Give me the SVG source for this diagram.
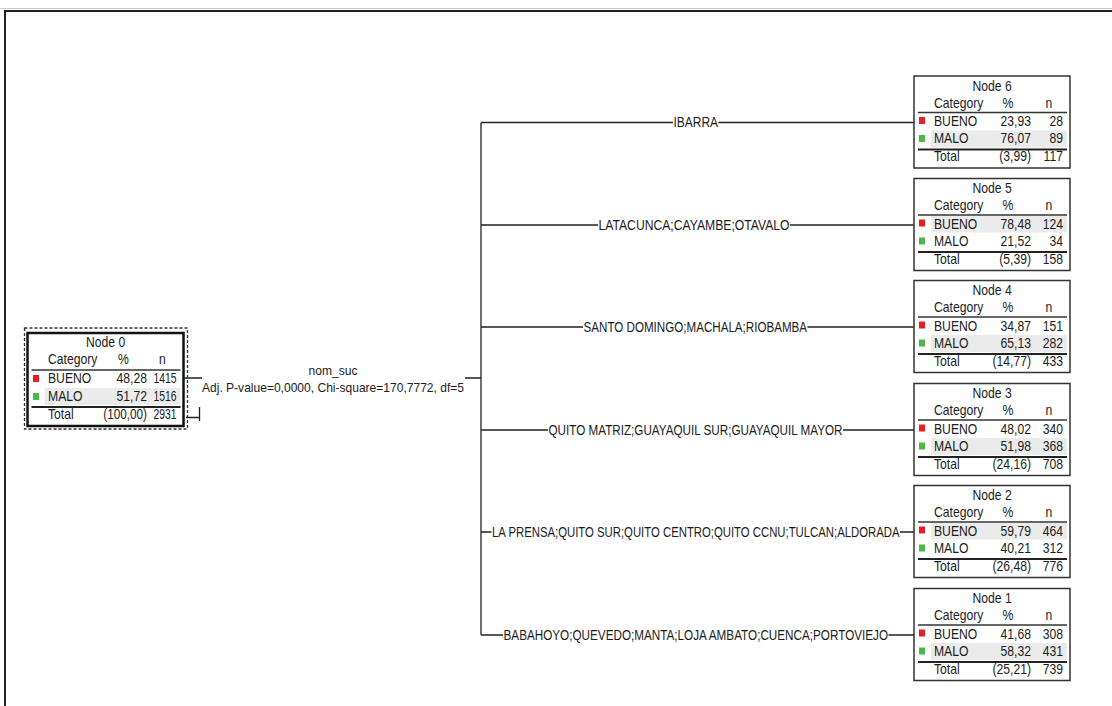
<svg xmlns="http://www.w3.org/2000/svg" width="1112" height="706" viewBox="0 0 1112 706">
<style>
text{font-family:"Liberation Sans",Arial,sans-serif;font-size:14.5px;fill:#1c1c1c}
.t{text-anchor:middle}
.r{text-anchor:end}
.lbl{font-size:14px;text-anchor:middle}
.adj{font-size:13.5px}
.box{fill:#fff;stroke:#333;stroke-width:1.5}
.box0{fill:#fff;stroke:#111;stroke-width:2.5}
.sel{fill:none;stroke:#333;stroke-width:1.3;stroke-dasharray:3 2}
.hl{stroke:#333;stroke-width:1.4}
.dl{stroke:#222;stroke-width:2.2}
.row{fill:#ebebeb}
.red{fill:#ec1c24}
.grn{fill:#4db848}
.c{stroke:#222;stroke-width:1.3;fill:none}
</style>
<defs>
<g id="frame">
<line class="hl" x1="4" y1="36.5" x2="153" y2="36.5"/>
<line class="dl" x1="4" y1="73.5" x2="153" y2="73.5"/>
<rect class="red" x="5" y="41" width="6" height="7"/>
<rect class="grn" x="5" y="59" width="6" height="7"/>
<g transform="scale(0.84,1)">
<text x="23.8" y="32">Category</text>
<text class="t" x="111.9" y="32">%</text>
<text class="t" x="160.7" y="32">n</text>
<text x="23.8" y="50.5">BUENO</text>
<text x="23.8" y="67.5">MALO</text>
<text x="23.8" y="85.5">Total</text>
</g>
</g>
<rect id="gB" class="row" x="17" y="37.5" width="136" height="16.5"/>
<rect id="gM" class="row" x="17" y="54.5" width="136" height="17"/>
</defs>
<line x1="0" y1="8.5" x2="1112" y2="8.5" stroke="#ccc" stroke-width="1"/>
<rect x="5" y="11" width="1200" height="800" fill="none" stroke="#222" stroke-width="2"/>
<g id="connectors">
<path class="c" d="M183,378 H202 M465,378 H481"/>
<path class="c" d="M186,417.5 H199.5 M199.5,407 V421"/>
<path class="c" d="M481,122.5 V635"/>
<path class="c" d="M481,122.5 H673 M718.5,122.5 H914"/>
<path class="c" d="M481,225 H598 M790,225 H914"/>
<path class="c" d="M481,327 H583 M807.5,327 H914"/>
<path class="c" d="M481,430 H548 M843,430 H914"/>
<path class="c" d="M481,532 H491.5 M900,532 H914"/>
<path class="c" d="M481,635 H503 M888.5,635 H914"/>
<text class="t adj" x="333" y="375" textLength="49" lengthAdjust="spacingAndGlyphs">nom_suc</text>
<text class="adj" x="202" y="391.5" textLength="262" lengthAdjust="spacingAndGlyphs">Adj. P-value=0,0000, Chi-square=170,7772, df=5</text>
<text class="lbl" x="695.8" y="127" textLength="44.5" lengthAdjust="spacingAndGlyphs">IBARRA</text>
<text class="lbl" x="694" y="229.5" textLength="191" lengthAdjust="spacingAndGlyphs">LATACUNCA;CAYAMBE;OTAVALO</text>
<text class="lbl" x="695.3" y="331.5" textLength="223.5" lengthAdjust="spacingAndGlyphs">SANTO DOMINGO;MACHALA;RIOBAMBA</text>
<text class="lbl" x="695.5" y="434.5" textLength="294" lengthAdjust="spacingAndGlyphs">QUITO MATRIZ;GUAYAQUIL SUR;GUAYAQUIL MAYOR</text>
<text class="lbl" x="695.8" y="536.5" textLength="407.5" lengthAdjust="spacingAndGlyphs">LA PRENSA;QUITO SUR;QUITO CENTRO;QUITO CCNU;TULCAN;ALDORADA</text>
<text class="lbl" x="695.8" y="639.5" textLength="384.5" lengthAdjust="spacingAndGlyphs">BABAHOYO;QUEVEDO;MANTA;LOJA AMBATO;CUENCA;PORTOVIEJO</text>
</g>
<g id="node0">
<rect class="sel" x="24.5" y="328" width="163" height="101"/>
<g transform="translate(27.5,333)">
<rect class="box0" x="0" y="0" width="156" height="93"/>
<rect class="row" x="17" y="55" width="136" height="17"/>
<line class="hl" x1="4" y1="37" x2="153" y2="37"/>
<line class="dl" x1="4" y1="74" x2="153" y2="74"/>
<rect class="red" x="5.5" y="42" width="6" height="7"/>
<rect class="grn" x="5.5" y="60" width="6" height="7"/>
<g transform="scale(0.84,1)">
<text class="t" x="92.9" y="14">Node 0</text>
<text x="24.4" y="31.5">Category</text>
<text class="t" x="114.3" y="31.5">%</text>
<text class="t" x="160.7" y="31.5">n</text>
<text x="24.4" y="50.5">BUENO</text>
<text class="r" x="142.3" y="50.5">48,28</text>
<text class="r" x="177.4" y="50.5" textLength="27.5" lengthAdjust="spacingAndGlyphs">1415</text>
<text x="24.4" y="68">MALO</text>
<text class="r" x="142.3" y="68">51,72</text>
<text class="r" x="177.4" y="68" textLength="27.5" lengthAdjust="spacingAndGlyphs">1516</text>
<text x="24.4" y="86">Total</text>
<text class="r" x="142.3" y="86" textLength="52" lengthAdjust="spacingAndGlyphs">(100,00)</text>
<text class="r" x="177.4" y="86" textLength="27.5" lengthAdjust="spacingAndGlyphs">2931</text>
</g>
</g>
</g>
<g id="node6" transform="translate(914,76)">
<rect class="box" x="0" y="0" width="156" height="92"/>
<use href="#gM"/>
<use href="#frame"/>
<g transform="scale(0.84,1)">
<text class="t" x="92.9" y="15">Node 6</text>
<text class="r" x="139.3" y="50.5">23,93</text><text class="r" x="177.4" y="50.5">28</text>
<text class="r" x="139.3" y="67.5">76,07</text><text class="r" x="177.4" y="67.5">89</text>
<text class="r" x="139.3" y="85.5">(3,99)</text><text class="r" x="177.4" y="85.5">117</text>
</g>
</g>
<g id="node5" transform="translate(914,178.5)">
<rect class="box" x="0" y="0" width="156" height="92"/>
<use href="#gB"/>
<use href="#frame"/>
<g transform="scale(0.84,1)">
<text class="t" x="92.9" y="15">Node 5</text>
<text class="r" x="139.3" y="50.5">78,48</text><text class="r" x="177.4" y="50.5">124</text>
<text class="r" x="139.3" y="67.5">21,52</text><text class="r" x="177.4" y="67.5">34</text>
<text class="r" x="139.3" y="85.5">(5,39)</text><text class="r" x="177.4" y="85.5">158</text>
</g>
</g>
<g id="node4" transform="translate(914,280.5)">
<rect class="box" x="0" y="0" width="156" height="92"/>
<use href="#gM"/>
<use href="#frame"/>
<g transform="scale(0.84,1)">
<text class="t" x="92.9" y="15">Node 4</text>
<text class="r" x="139.3" y="50.5">34,87</text><text class="r" x="177.4" y="50.5">151</text>
<text class="r" x="139.3" y="67.5">65,13</text><text class="r" x="177.4" y="67.5">282</text>
<text class="r" x="139.3" y="85.5">(14,77)</text><text class="r" x="177.4" y="85.5">433</text>
</g>
</g>
<g id="node3" transform="translate(914,383.5)">
<rect class="box" x="0" y="0" width="156" height="92"/>
<use href="#gM"/>
<use href="#frame"/>
<g transform="scale(0.84,1)">
<text class="t" x="92.9" y="15">Node 3</text>
<text class="r" x="139.3" y="50.5">48,02</text><text class="r" x="177.4" y="50.5">340</text>
<text class="r" x="139.3" y="67.5">51,98</text><text class="r" x="177.4" y="67.5">368</text>
<text class="r" x="139.3" y="85.5">(24,16)</text><text class="r" x="177.4" y="85.5">708</text>
</g>
</g>
<g id="node2" transform="translate(914,485.5)">
<rect class="box" x="0" y="0" width="156" height="92"/>
<use href="#gB"/>
<use href="#frame"/>
<g transform="scale(0.84,1)">
<text class="t" x="92.9" y="15">Node 2</text>
<text class="r" x="139.3" y="50.5">59,79</text><text class="r" x="177.4" y="50.5">464</text>
<text class="r" x="139.3" y="67.5">40,21</text><text class="r" x="177.4" y="67.5">312</text>
<text class="r" x="139.3" y="85.5">(26,48)</text><text class="r" x="177.4" y="85.5">776</text>
</g>
</g>
<g id="node1" transform="translate(914,588.5)">
<rect class="box" x="0" y="0" width="156" height="92"/>
<use href="#gM"/>
<use href="#frame"/>
<g transform="scale(0.84,1)">
<text class="t" x="92.9" y="15">Node 1</text>
<text class="r" x="139.3" y="50.5">41,68</text><text class="r" x="177.4" y="50.5">308</text>
<text class="r" x="139.3" y="67.5">58,32</text><text class="r" x="177.4" y="67.5">431</text>
<text class="r" x="139.3" y="85.5">(25,21)</text><text class="r" x="177.4" y="85.5">739</text>
</g>
</g>
</svg>
